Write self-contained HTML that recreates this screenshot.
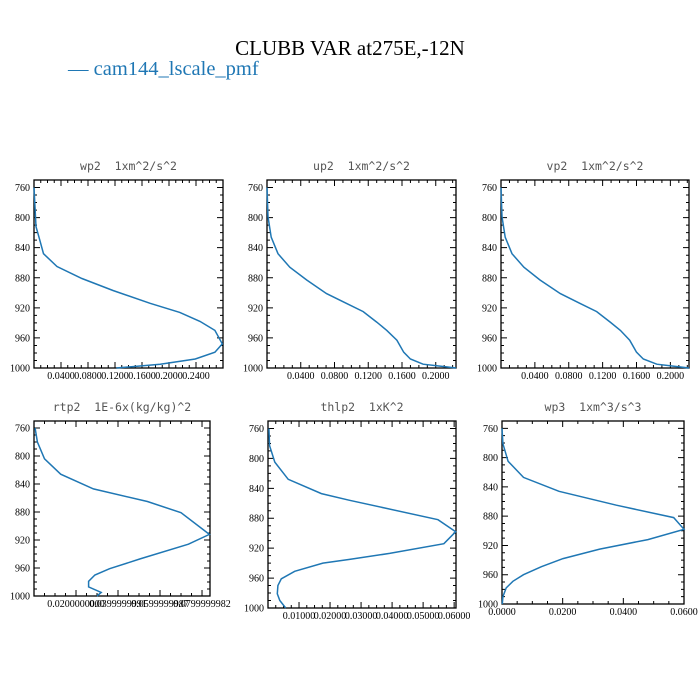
<!DOCTYPE html>
<html><head><meta charset="utf-8"><style>
body{margin:0;background:#fff}
svg{display:block}
.tl{font-family:"Liberation Serif",serif;font-size:10px;fill:#000}
.pt{font-family:"DejaVu Sans Mono","Liberation Mono",monospace;font-size:11.5px;fill:#555}
</style></head><body>
<svg id="c" width="700" height="700">
<text x="350" y="55" text-anchor="middle" font-family="Liberation Serif,serif" font-size="21">CLUBB VAR at275E,-12N</text>
<text x="68" y="75" font-family="Liberation Serif,serif" font-size="20.5" fill="#1f77b4">— cam144_lscale_pmf</text>
</svg>
<script>
const wp2P=[760,812,828,848,865,881,897,914,926,938,950,968,979,988,995,1000];
const wp2V=[0,0.003,0.008,0.014,0.034,0.071,0.117,0.172,0.216,0.246,0.268,0.279,0.268,0.239,0.187,0.122];
const up2P=[760,799,826,848,866,883,901,914,925,939,950,963,979,988,995,998,1000];
const up2V=[0,0.0012,0.005,0.013,0.027,0.047,0.0705,0.094,0.114,0.130,0.142,0.154,0.162,0.170,0.185,0.209,0.224];
const vp2V=[0,0.0012,0.005,0.013,0.027,0.046,0.070,0.093,0.113,0.129,0.141,0.152,0.160,0.168,0.184,0.207,0.222];
const rtp2P=[760,780,804,826,847,865,881,912,926,947,961,970,979,987,995,1000];
const rtp2V=[0.0005,0.0016,0.005,0.0127,0.0283,0.054,0.070,0.0835,0.0735,0.0505,0.036,0.029,0.026,0.026,0.032,0.030];
const thlp2P=[760,783,805,828,847,856,882,898,914,927,935,940,951,961,970,981,990,1000];
const thlp2V=[0.0003,0.0005,0.0022,0.0065,0.0172,0.0263,0.0548,0.0605,0.0567,0.0392,0.0263,0.0177,0.0086,0.0043,0.0032,0.003,0.0038,0.0057];
const wp3P=[760,781,805,827,846,865,882,898,912,925,938,949,960,969,978,990,1000];
const wp3V=[0,0.0003,0.002,0.0071,0.0188,0.0377,0.0566,0.06,0.0481,0.0322,0.0201,0.013,0.0071,0.0036,0.0014,0.0003,0.0001];
const yTicks=[760,800,840,880,920,960,1000];
const wp2Ticks=[0.04,0.08,0.12,0.16,0.20,0.24];
const wp2Labels=["0.0400","0.0800","0.1200","0.1600","0.2000","0.2400"];
const up2Ticks=[0.04,0.08,0.12,0.16,0.20];
const up2Labels=["0.0400","0.0800","0.1200","0.1600","0.2000"];
const rtp2Ticks=[0.02,0.04,0.06,0.08];
const rtp2Labels=["0.0200000000","0.0399999991","0.0599999987","0.0799999982"];
const thlp2Ticks=[0.01,0.02,0.03,0.04,0.05,0.06];
const thlp2Labels=["0.01000","0.02000","0.03000","0.04000","0.05000","0.06000"];
const wp3Ticks=[0,0.02,0.04,0.06];
const wp3Labels=["0.0000","0.0200","0.0400","0.0600"];
const panels=[
 {n:"wp2",t:"wp2  1xm^2/s^2",x0:34,x1:223,y0:180,y1:368,xm:0.28,P:wp2P,V:wp2V,tk:wp2Ticks,lb:wp2Labels},
 {n:"up2",t:"up2  1xm^2/s^2",x0:267,x1:456,y0:180,y1:368,xm:0.224,P:up2P,V:up2V,tk:up2Ticks,lb:up2Labels},
 {n:"vp2",t:"vp2  1xm^2/s^2",x0:501,x1:689,y0:180,y1:368,xm:0.222,P:up2P,V:vp2V,tk:up2Ticks,lb:up2Labels},
 {n:"rtp2",t:"rtp2  1E-6x(kg/kg)^2",x0:34,x1:210,y0:421,y1:596,xm:0.0838,P:rtp2P,V:rtp2V,tk:rtp2Ticks,lb:rtp2Labels},
 {n:"thlp2",t:"thlp2  1xK^2",x0:268,x1:456,y0:421,y1:608,xm:0.0606,P:thlp2P,V:thlp2V,tk:thlp2Ticks,lb:thlp2Labels},
 {n:"wp3",t:"wp3  1xm^3/s^3",x0:502,x1:684,y0:421,y1:604,xm:0.06,P:wp3P,V:wp3V,tk:wp3Ticks,lb:wp3Labels}
];
const svg=document.getElementById('c');const NS="http://www.w3.org/2000/svg";
function mk(t,a,p){const e=document.createElementNS(NS,t);for(const k in a)e.setAttribute(k,a[k]);(p||svg).appendChild(e);return e;}
panels.forEach(p=>{
 const g=mk('g',{});
 
 
 const sx=v=>p.x0+v/p.xm*(p.x1-p.x0);
 const sy=v=>p.y0+(v-750)/250*(p.y1-p.y0);
 const tt=mk('text',{x:(p.x0+p.x1)/2,y:p.y0-10,'text-anchor':'middle',class:'pt','xml:space':'preserve'},g);
 tt.textContent=p.t.replace("  ","\u00a0\u00a0");
 
 
 const fr=mk('rect',{x:p.x0,y:p.y0,width:p.x1-p.x0,height:p.y1-p.y0,fill:'none',stroke:'#000','stroke-width':1.3},g);
 
 
 let d="";
 for(let v=750;v<=1000;v+=10){const y=sy(v);const L=(v%40===0&&v>=760)?6:3;d+=`M${p.x0} ${y}h${L}M${p.x1} ${y}h${-L}`;}
 const step=p.tk[1]-p.tk[0];
 for(let i=0;;i++){const v=i*step/4;if(v>p.xm+1e-9)break;const x=sx(v);const L=(i%4===0)?6:3;d+=`M${x} ${p.y1}v${-L}M${x} ${p.y0}v${L}`;}
 const tp=mk('path',{d:d,stroke:'#000','stroke-width':1,fill:'none'},g);
 
 
 yTicks.forEach(v=>{const t=mk('text',{x:p.x0-4,y:sy(v)+3.5,'text-anchor':'end',class:'tl'},g);t.textContent=v;
  
  });
 p.tk.forEach((v,i)=>{const t=mk('text',{x:sx(v),y:p.y1+11,'text-anchor':'middle',class:'tl'},g);t.textContent=p.lb[i];
  
  });
 const pts=p.P.map((pr,i)=>sx(p.V[i]).toFixed(1)+','+sy(pr).toFixed(1)).join(' ');
 const ln=mk('polyline',{points:pts,fill:'none',stroke:'#1f77b4','stroke-width':1.5},g);
 
 
});
</script>
</body></html>
